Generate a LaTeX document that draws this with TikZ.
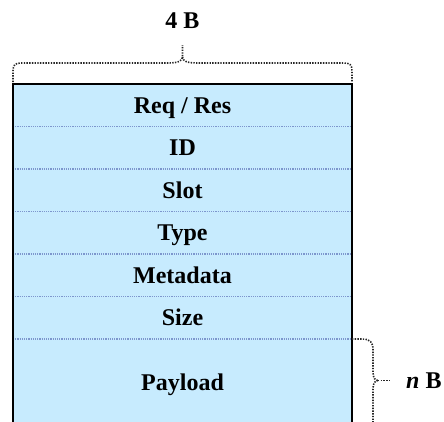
\documentclass[tikz,border=0pt]{standalone}
\usepackage{fontspec}
\setmainfont{Liberation Serif}
\usetikzlibrary{positioning}
\definecolor{cellfill}{RGB}{199,235,254}
\definecolor{sepcol}{RGB}{125,150,205}
\definecolor{bracecol}{RGB}{40,40,40}
\begin{document}
\begin{tikzpicture}[x=1pt,y=-1pt,
 field/.style={fill=cellfill, minimum width=339pt, minimum height=42.5pt, inner sep=0pt, outer sep=0pt, text height=16pt, text depth=0pt, font=\fontsize{24}{28}\selectfont\bfseries},
 sepline/.style={draw=sepcol, line width=1.2pt, dash pattern=on 1.2pt off 1pt},
 border/.style={draw=black, line width=2pt},
 bracepath/.style={draw=bracecol, line width=1.6pt, dash pattern=on 1.4pt off 1.3pt},
 lbl/.style={font=\fontsize{24}{28}\selectfont\bfseries, inner sep=0pt}]
\useasboundingbox (0,0) rectangle (444,421);
\node[field] (r1) at (182.5,105.25) {Req / Res};
\node[field, below=0pt of r1] (r2) {ID};
\node[field, below=0pt of r2] (r3) {Slot};
\node[field, below=0pt of r3] (r4) {Type};
\node[field, below=0pt of r4] (r5) {Metadata};
\node[field, below=0pt of r5] (r6) {Size};
\node[field, below=0pt of r6, minimum height=86pt] (r7) {Payload};
\foreach \a in {r1,r2,r3,r4,r5,r6}{
  \draw[sepline] (\a.south west) -- (\a.south east);
}
\draw[border] ([yshift=-10pt]r7.south west) -- (r1.north west) -- (r1.north east) -- ([yshift=-10pt]r7.south east);
% top brace
\node[lbl, anchor=base] (tb) at (182.5,28.3) {4 B};
\coordinate (tip) at (182.5,45);
\draw[bracepath] (13,82) -- (13,71) .. controls (13,65) and (15,63) .. (21,63) -- (168,63) .. controls (178,63) and (182.5,61) .. (182.5,57) -- (tip);
\draw[bracepath] (182.5,57) .. controls (182.5,61) and (187,63) .. (197,63) -- (344,63) .. controls (350,63) and (352,65) .. (352,71) -- (352,82);
% right brace
\node[lbl, anchor=base west] (nb) at (406,388) {\textit{n} B};
\coordinate (rtip) at (378,380.5);
\draw[bracepath] (r6.south east) -- (362,339) .. controls (370,339) and (373,342) .. (373,350) -- (373,372) .. controls (373,378) and (375,380.5) .. (rtip);
\draw[bracepath] (rtip) .. controls (375,380.5) and (373,383) .. (373,389) -- (373,430);
\draw[bracepath] (rtip) -- (391,380.5);
\end{tikzpicture}
\end{document}
